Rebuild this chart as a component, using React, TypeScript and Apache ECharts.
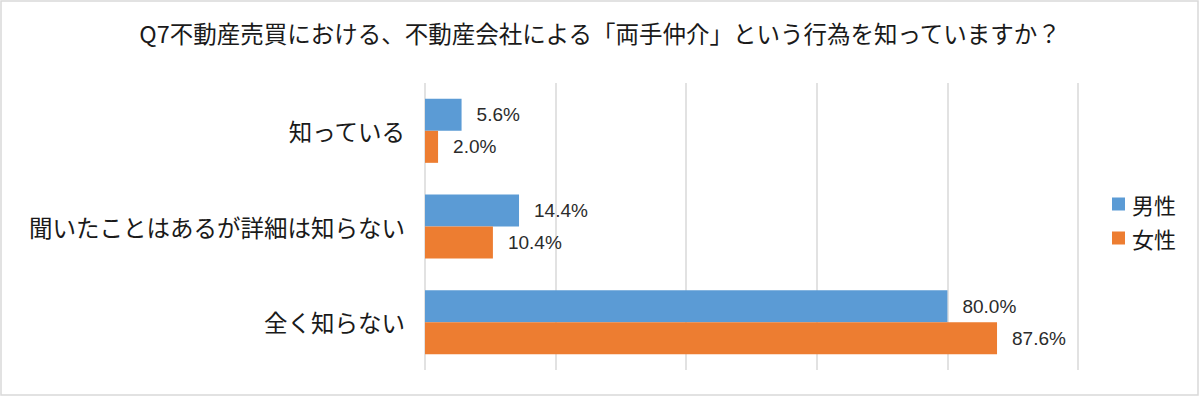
import React, { useEffect, useRef } from "react";
import * as echarts from "echarts";

const TITLE = "Q7不動産売買における、不動産会社による「両手仲介」という行為を知っていますか？";
const categories = ["知っている", "聞いたことはあるが詳細は知らない", "全く知らない"];
const seriesNames = ["男性", "女性"];
const maleValues = [5.6, 14.4, 80.0];
const femaleValues = [2.0, 10.4, 87.6];
const colors = ["#5B9BD5", "#ED7D31"];

const FONT = "'Noto Sans CJK JP', 'Noto Sans', sans-serif";

export default function App() {
  const ref = useRef<HTMLDivElement>(null);
  useEffect(() => {
    document.body.style.margin = "0";
    const chart = echarts.init(ref.current!, null, { renderer: "svg" });
    const labelCfg = {
      show: true,
      position: "right",
      distance: 15,
      color: "#2b2b2b",
      fontSize: 19,
      fontFamily: "'Liberation Sans', Arial, sans-serif",
      formatter: (p: any) => p.value.toFixed(1) + "%",
    };
    chart.setOption({
      animation: false,
      backgroundColor: "#ffffff",
      title: {
        text: TITLE,
        left: "center",
        top: 16,
        textStyle: { fontFamily: FONT, fontSize: 23.5, fontWeight: "normal", color: "#1a1a1a" },
      },
      legend: {
        orient: "vertical",
        left: 1107,
        top: 188,
        itemWidth: 13,
        itemHeight: 13,
        itemGap: 12,
        icon: "rect",
        data: seriesNames,
        textStyle: { fontFamily: FONT, fontSize: 22, color: "#1a1a1a", padding: [0, 0, 0, 2] },
      },
      graphic: [
        {
          type: "rect",
          shape: { x: 1, y: 1, width: 1197, height: 394 },
          style: { fill: "none", stroke: "#d9d9d9", lineWidth: 1.5 },
          silent: true,
        },
      ],
      grid: { left: 425, right: 122, top: 83, bottom: 27, containLabel: false },
      xAxis: {
        type: "value",
        min: 0,
        max: 100,
        interval: 20,
        axisLabel: { show: false },
        axisLine: { show: false },
        axisTick: { show: false },
        splitLine: { show: true, lineStyle: { color: "#d9d9d9", width: 1.5 } },
      },
      yAxis: {
        type: "category",
        data: categories,
        inverse: true,
        axisLine: { show: false },
        axisTick: { show: false },
        axisLabel: { fontFamily: FONT, fontSize: 23.5, color: "#1a1a1a", margin: 20 },
      },
      series: [
        {
          name: seriesNames[0],
          type: "bar",
          data: maleValues,
          barWidth: 32,
          barGap: "0%",
          itemStyle: { color: colors[0] },
          label: labelCfg,
        },
        {
          name: seriesNames[1],
          type: "bar",
          data: femaleValues,
          barWidth: 32,
          barGap: "0%",
          itemStyle: { color: colors[1] },
          label: labelCfg,
        },
      ],
    });
    return () => chart.dispose();
  }, []);
  return <div ref={ref} style={{ width: 1200, height: 397 }} />;
}
